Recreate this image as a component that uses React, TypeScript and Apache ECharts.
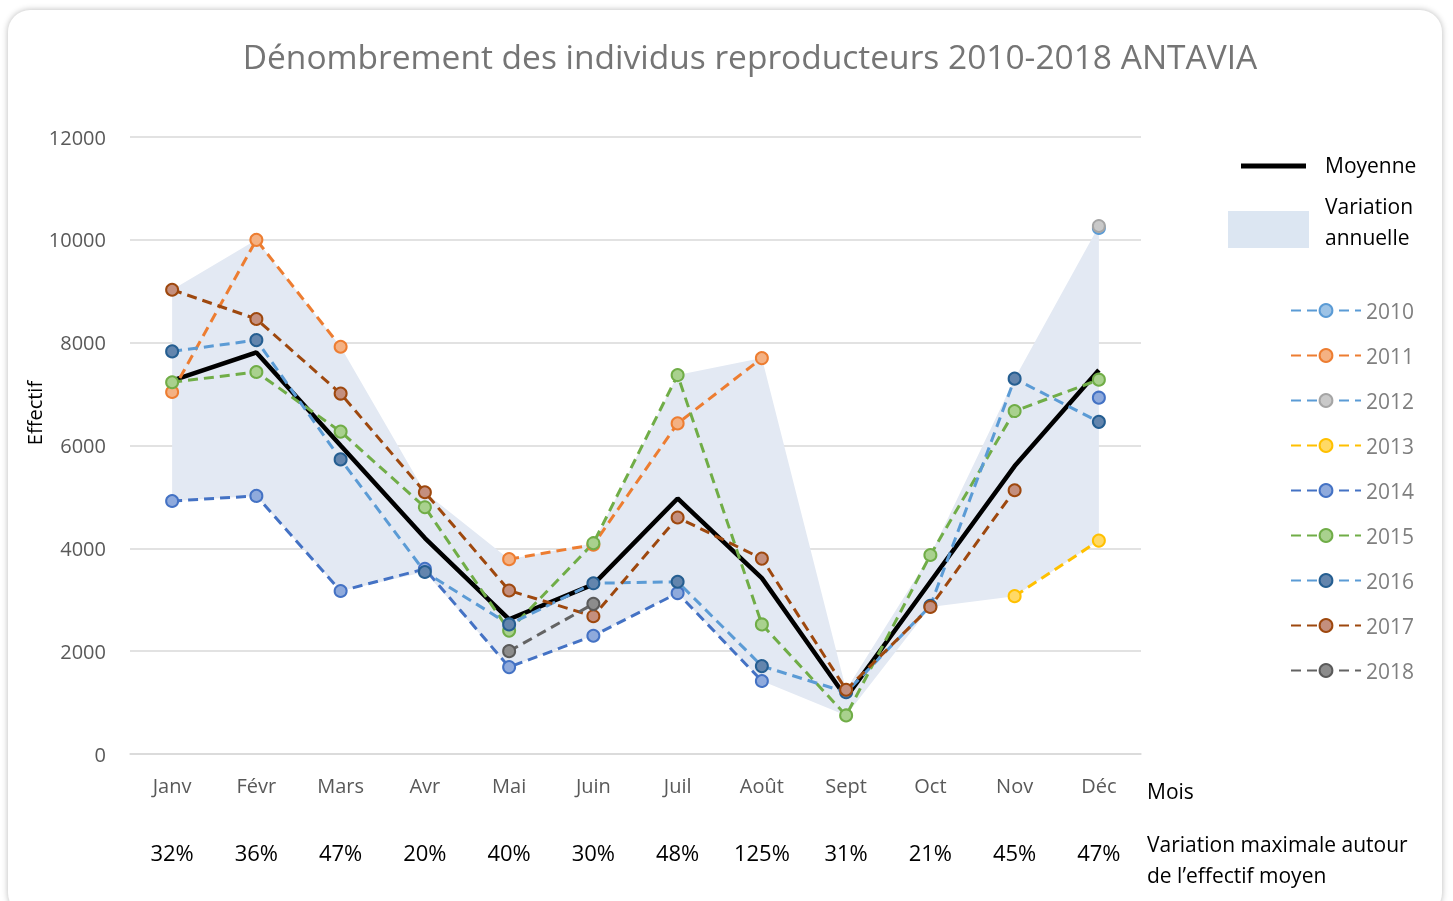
import React, { useEffect, useRef } from "react";
import * as echarts from "echarts";

const months = ["Janv", "Févr", "Mars", "Avr", "Mai", "Juin", "Juil", "Août", "Sept", "Oct", "Nov", "Déc"];
const variationPct = ["32%", "36%", "47%", "20%", "40%", "30%", "48%", "125%", "31%", "21%", "45%", "47%"];
const yTicks = [0, 2000, 4000, 6000, 8000, 10000, 12000];

const moyenne = [7260, 7810, 6000, 4200, 2620, 3300, 4970, 3420, 1100, 3350, 5600, 7470];
const y2010 = [null, null, null, null, null, null, null, null, null, null, null, 10230];
const y2011 = [7040, 10000, 7920, null, 3790, 4070, 6430, 7700, null, null, null, null];
const y2012 = [null, null, null, null, null, null, null, null, null, null, null, 10270];
const y2013 = [null, null, null, null, null, null, null, null, null, null, 3070, 4150];
const y2014 = [4920, 5020, 3170, 3600, 1690, 2300, 3130, 1420, null, null, null, 6930];
const y2015 = [7230, 7430, 6270, 4800, 2400, 4100, 7370, 2520, 750, 3870, 6670, 7280];
const y2016 = [7830, 8050, 5730, 3540, 2520, 3320, 3350, 1710, 1200, 2880, 7300, 6460];
const y2017 = [9030, 8460, 7010, 5090, 3180, 2680, 4600, 3800, 1250, 2860, 5130, null];
const y2018 = [null, null, null, null, 2000, 2920, null, null, null, null, null, null];

const years = [
  { name: "2010", data: y2010, line: "#5b9bd5", fill: "#9dc3e6", border: "#5b9bd5" },
  { name: "2011", data: y2011, line: "#ed7d31", fill: "#f4b183", border: "#ed7d31" },
  { name: "2012", data: y2012, line: "#5b9bd5", fill: "#c9c9c9", border: "#a5a5a5" },
  { name: "2013", data: y2013, line: "#ffc000", fill: "#ffd966", border: "#ffc000" },
  { name: "2014", data: y2014, line: "#4472c4", fill: "#8faadc", border: "#4472c4" },
  { name: "2015", data: y2015, line: "#70ad47", fill: "#a9d18e", border: "#70ad47" },
  { name: "2016", data: y2016, line: "#5b9bd5", fill: "#6385ad", border: "#255e91" },
  { name: "2017", data: y2017, line: "#9e480e", fill: "#c48f7e", border: "#9e480e" },
  { name: "2018", data: y2018, line: "#636363", fill: "#8c8c8c", border: "#5a5a5a" },
];

const FONT = "'Open Sans', 'DejaVu Sans', sans-serif";

export default function App() {
  const ref = useRef<HTMLDivElement>(null);

  useEffect(() => {
    if (!ref.current) return;
    const chart = echarts.init(ref.current, null, { renderer: "svg" });

    const bandMin = months.map((_, i) => {
      const vals = years.map((y) => y.data[i]).filter((v) => v != null) as number[];
      return Math.min(...vals);
    });
    const bandMax = months.map((_, i) => {
      const vals = years.map((y) => y.data[i]).filter((v) => v != null) as number[];
      return Math.max(...vals);
    });

    const yearSeries = years.map((y) => ({
      name: y.name,
      type: "line",
      data: y.data,
      connectNulls: false,
      symbol: "circle",
      symbolSize: 12,
      showSymbol: true,
      z: 3,
      lineStyle: { color: y.line, width: 3, type: [10, 6] },
      itemStyle: { color: y.fill, borderColor: y.border, borderWidth: 2 },
    }));

    const option: any = {
      animation: false,
      textStyle: { fontFamily: FONT },
      grid: { left: 130, right: 312, top: 137, bottom: 147, containLabel: false },
      xAxis: [
        {
          type: "category",
          data: months,
          boundaryGap: true,
          axisLine: { show: true, lineStyle: { color: "#d9d9d9", width: 1.5 } },
          axisTick: { show: false },
          axisLabel: { color: "#595959", fontSize: 20, margin: 21, fontFamily: FONT },
        },
        {
          type: "category",
          data: variationPct,
          position: "bottom",
          offset: 66,
          boundaryGap: true,
          axisLine: { show: false },
          axisTick: { show: false },
          axisLabel: { color: "#000", fontSize: 22, margin: 21, fontFamily: FONT },
        },
      ],
      yAxis: {
        type: "value",
        min: yTicks[0],
        max: yTicks[yTicks.length - 1],
        interval: 2000,
        axisLine: { show: false },
        axisTick: { show: false },
        axisLabel: {
          color: "#595959",
          fontSize: 20,
          margin: 24,
          fontFamily: FONT,
          formatter: (v: number) => String(v),
        },
        splitLine: { lineStyle: { color: "#d9d9d9", width: 1.5 } },
      },
      legend: {
        data: years.map((y) => y.name),
        orient: "vertical",
        left: 1290,
        top: 300,
        padding: 0,
        itemWidth: 70,
        itemHeight: 16,
        itemGap: 24,
        textStyle: { color: "#7f7f7f", fontSize: 21, lineHeight: 16, fontFamily: FONT },
      },
      graphic: [
        {
          type: "text",
          x: 750,
          y: 56,
          style: {
            text: "Dénombrement des individus reproducteurs 2010-2018 ANTAVIA",
            textAlign: "center",
            textVerticalAlign: "middle",
            fill: "#757575",
            font: `33.5px ${FONT}`,
          },
        },
        {
          type: "text",
          x: 34,
          y: 413,
          rotation: Math.PI / 2,
          style: { text: "Effectif", textAlign: "center", textVerticalAlign: "middle", fill: "#000", font: `20px ${FONT}` },
        },
        { type: "line", shape: { x1: 1241, y1: 166, x2: 1306, y2: 166 }, style: { stroke: "#000", lineWidth: 5 } },
        { type: "text", x: 1325, y: 165, style: { text: "Moyenne", fill: "#000", font: `21px ${FONT}`, textVerticalAlign: "middle" } },
        { type: "rect", shape: { x: 1228, y: 211, width: 81, height: 37 }, style: { fill: "#dce6f2" } },
        { type: "text", x: 1325, y: 206, style: { text: "Variation", fill: "#000", font: `21px ${FONT}`, textVerticalAlign: "middle" } },
        { type: "text", x: 1325, y: 237, style: { text: "annuelle", fill: "#000", font: `21px ${FONT}`, textVerticalAlign: "middle" } },
        { type: "text", x: 1147, y: 791, style: { text: "Mois", fill: "#000", font: `21px ${FONT}`, textVerticalAlign: "middle" } },
        { type: "text", x: 1147, y: 844, style: { text: "Variation maximale autour", fill: "#000", font: `21px ${FONT}`, textVerticalAlign: "middle" } },
        { type: "text", x: 1147, y: 875, style: { text: "de l’effectif moyen", fill: "#000", font: `21px ${FONT}`, textVerticalAlign: "middle" } },
      ],
      series: [
        {
          name: "bandLow",
          type: "line",
          data: bandMin,
          stack: "band",
          symbol: "none",
          lineStyle: { opacity: 0 },
          silent: true,
          z: 1,
        },
        {
          name: "Variation annuelle",
          type: "line",
          data: bandMax.map((v, i) => v - bandMin[i]),
          stack: "band",
          symbol: "none",
          lineStyle: { opacity: 0 },
          areaStyle: { color: "#e3e9f3", opacity: 1 },
          silent: true,
          z: 1,
        },
        {
          name: "Moyenne",
          type: "line",
          data: moyenne,
          symbol: "none",
          z: 2,
          lineStyle: { color: "#000", width: 4.5 },
        },
        ...yearSeries,
      ],
    };

    chart.setOption(option);
    return () => chart.dispose();
  }, []);

  return (
    <>
      <div
        style={{
          position: "fixed",
          left: 8,
          top: 10,
          width: 1434,
          height: 905,
          borderRadius: 22,
          background: "#fff",
          boxShadow: "0 0 6px rgba(0,0,0,0.28)",
        }}
      />
      <div ref={ref} style={{ position: "fixed", left: 0, top: 0, width: 1453, height: 901 }} />
    </>
  );
}
